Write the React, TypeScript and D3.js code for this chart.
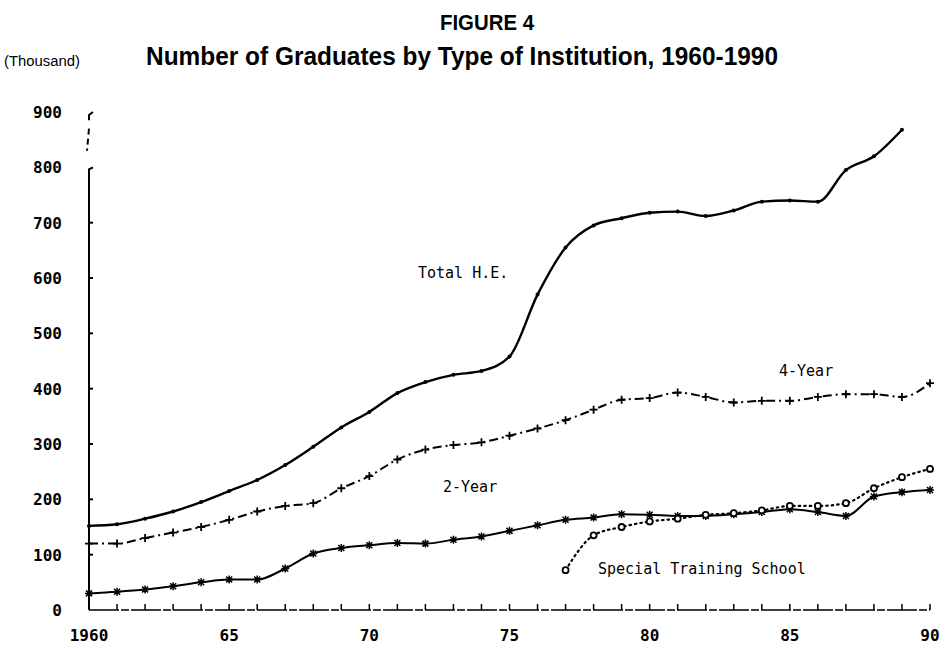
import React from "react";
import * as d3 from "d3";

const years = d3.range(1960, 1991);
const totalHE = [152, 155, 165, 178, 195, 215, 235, 262, 295, 330, 358, 392, 412, 425, 432, 458, 570, 655, 695, 708, 718, 720, 712, 722, 738, 740, 738, 795, 820, 868];
const fourYear = [120, 120, 130, 140, 150, 163, 178, 188, 193, 220, 242, 272, 290, 298, 303, 315, 328, 343, 362, 380, 383, 393, 385, 375, 378, 378, 385, 390, 390, 385, 410];
const twoYear = [30, 33, 37, 43, 50, 55, 55, 75, 102, 112, 117, 121, 120, 127, 133, 143, 153, 163, 167, 173, 172, 170, 170, 173, 177, 182, 177, 170, 205, 213, 217];
const specialYears = d3.range(1977, 1991);
const special = [72, 135, 150, 160, 165, 172, 175, 180, 188, 188, 193, 220, 240, 255];
const yTicks = [0, 100, 200, 300, 400, 500, 600, 700, 800, 900];
const xTickLabels = ["1960", "65", "70", "75", "80", "85", "90"];

const W = 947;
const H = 649;
const mono = "'DejaVu Sans Mono', 'Liberation Mono', monospace";
const narrow = "'Liberation Sans Narrow', 'Liberation Sans', Arial, sans-serif";

export default function App() {
  const x = d3.scaleLinear().domain([1960, 1990]).range([89, 930]);
  const y = d3.scaleLinear().domain([0, 900]).range([610, 112]);

  const line = d3
    .line<[number, number]>()
    .x((d) => x(d[0]))
    .y((d) => y(d[1]))
    .curve(d3.curveMonotoneX);

  const pts = (ys: number[], vs: number[]): [number, number][] =>
    vs.map((v, i) => [ys[i], v]);

  const totalPts = pts(years, totalHE);
  const fourPts = pts(years, fourYear);
  const twoPts = pts(years, twoYear);
  const specPts = pts(specialYears, special);

  const x0 = x(1960);

  return (
    <svg width={W} height={H} style={{ position: "absolute", left: 0, top: 0, background: "#fff" }}>
      <rect width={W} height={H} fill="#fff" />
      {/* titles */}
      <text x={487} y={30} textAnchor="middle" fontFamily={narrow} fontWeight="bold" fontSize={22} textLength={94} lengthAdjust="spacingAndGlyphs">
        FIGURE 4
      </text>
      <text x={462} y={65} textAnchor="middle" fontFamily={narrow} fontWeight="bold" fontSize={25} textLength={632} lengthAdjust="spacingAndGlyphs">
        Number of Graduates by Type of Institution, 1960-1990
      </text>
      <text x={4} y={66} fontFamily={narrow} fontSize={14} textLength={76} lengthAdjust="spacingAndGlyphs">
        (Thousand)
      </text>

      {/* y axis with break */}
      <g stroke="#000" strokeWidth={2} fill="none">
        <path d={`M${x0 + 4},${y(900)} L${x0},${y(900) + 3} L${x0},${y(885)}`} />
        <path d={`M${x0},${y(870)} L${x0 - 2},${y(830)}`} strokeDasharray="6,4" />
        <path d={`M${x0 + 4},${y(800)} L${x0},${y(800) + 2} L${x0},${y(0)}`} />
        {yTicks.slice(1, -2).map((t) => (
          <line key={t} x1={x0} x2={x0 + 4} y1={y(t)} y2={y(t)} />
        ))}
      </g>
      {yTicks.map((t) => (
        <text key={t} x={62} y={y(t) + 6} textAnchor="end" fontFamily={mono} fontWeight="bold" fontSize={16}>
          {t}
        </text>
      ))}

      {/* x axis */}
      <g stroke="#000" fill="none">
        <line x1={x0} x2={x(1990)} y1={y(0)} y2={y(0)} strokeWidth={1.5} strokeDasharray="30,2,8,2" />
        {years.slice(1).map((yr) => (
          <line key={yr} x1={x(yr)} x2={x(yr)} y1={y(0)} y2={y(0) - 6} strokeWidth={1.5} />
        ))}
      </g>
      {xTickLabels.map((t, i) => (
        <text key={t} x={x(1960 + i * 5)} y={641} textAnchor="middle" fontFamily={mono} fontWeight="bold" fontSize={16}>
          {t}
        </text>
      ))}

      {/* Total H.E. */}
      <path d={line(totalPts) || ""} fill="none" stroke="#000" strokeWidth={2.4} />
      {totalPts.map((d) => (
        <circle key={d[0]} cx={x(d[0])} cy={y(d[1])} r={2} fill="#000" />
      ))}

      {/* 4-Year */}
      <path d={line(fourPts) || ""} fill="none" stroke="#000" strokeWidth={2} strokeDasharray="9,4,2,4" />
      {fourPts.map((d) => (
        <path
          key={d[0]}
          d={`M${x(d[0]) - 4},${y(d[1])}h8M${x(d[0])},${y(d[1]) - 4}v8`}
          stroke="#000"
          strokeWidth={1.8}
        />
      ))}

      {/* 2-Year */}
      <path d={line(twoPts) || ""} fill="none" stroke="#000" strokeWidth={2} />
      {twoPts.map((d) => {
        const cx = x(d[0]);
        const cy = y(d[1]);
        return (
          <path
            key={d[0]}
            d={`M${cx - 4},${cy}h8M${cx},${cy - 4}v8M${cx - 3},${cy - 3}l6,6M${cx - 3},${cy + 3}l6,-6`}
            stroke="#000"
            strokeWidth={1.5}
          />
        );
      })}

      {/* Special Training School */}
      <path d={line(specPts) || ""} fill="none" stroke="#000" strokeWidth={2.2} strokeDasharray="1.5,4" strokeLinecap="round" />
      {specPts.map((d) => (
        <circle key={d[0]} cx={x(d[0])} cy={y(d[1])} r={3} fill="#fff" stroke="#000" strokeWidth={1.8} />
      ))}

      {/* series labels */}
      <g fontFamily={mono} fontSize={15} fill="#000">
        <text x={418} y={278}>Total H.E.</text>
        <text x={779} y={376}>4-Year</text>
        <text x={443} y={492}>2-Year</text>
        <text x={598} y={574}>Special Training School</text>
      </g>
    </svg>
  );
}
